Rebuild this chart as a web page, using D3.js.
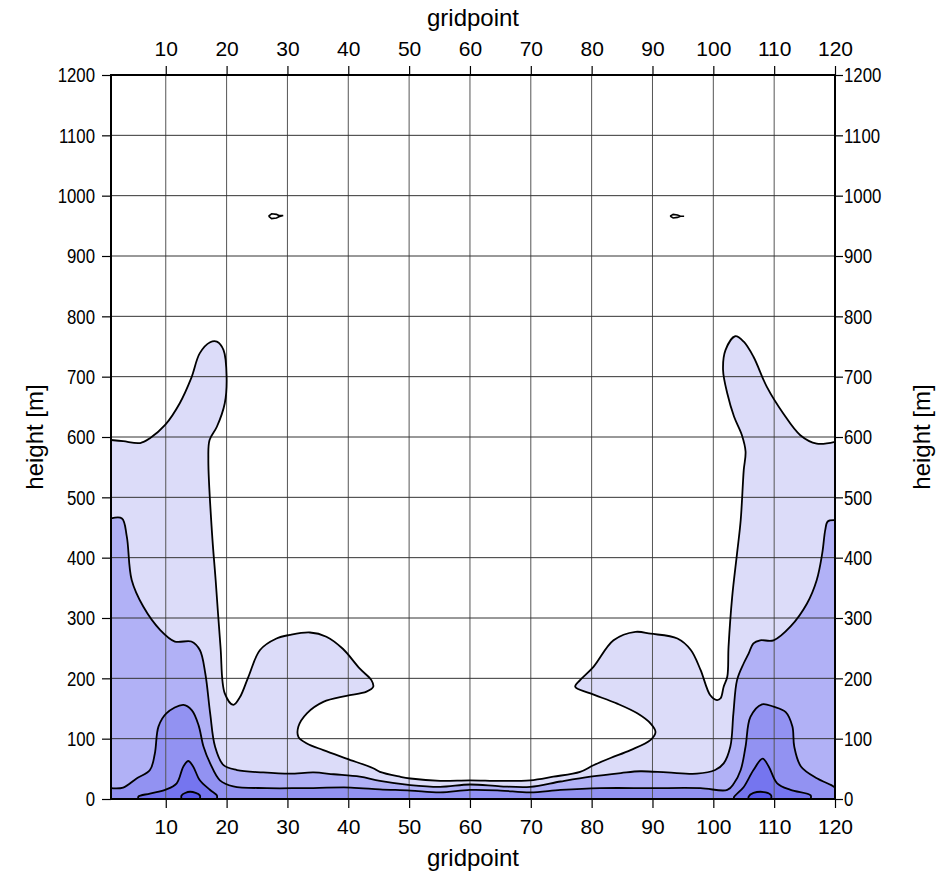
<!DOCTYPE html>
<html lang="en">
<head>
<meta charset="UTF-8">
<title>gridpoint / height contours</title>
<script src="https://cdn.jsdelivr.net/npm/d3@7"></script>
<style>
  body { margin: 0; background: #fff; }
  svg text { font-family: "Liberation Sans", Arial, sans-serif; fill: #000; }
</style>
</head>
<body>
<svg width="949" height="874"></svg>
<script>
// tick labels
const xTicks = [10, 20, 30, 40, 50, 60, 70, 80, 90, 100, 110, 120];
const yTicks = [0, 100, 200, 300, 400, 500, 600, 700, 800, 900, 1000, 1100, 1200];

// contour lines, [gridpoint, height]
const level1 = [[1,595],[3,593],[5.8,590],[7.4,598],[9.9,620],[12.3,656],[14.2,698],[15.6,739],[17.3,757],[18.4,758],[19.5,744],[20.0,700],[19.7,656],[18.4,617],[17.2,595],[17.0,562],[17.6,441],[18.2,363],[19.0,252],[19.7,175],[21.1,156],[22.2,169],[23.6,203],[25.5,247],[28.2,266],[30.4,272],[33.7,276],[36.4,269],[39.1,249],[41.9,216],[43.8,197],[44.1,186],[43.0,178],[39.7,171],[35.9,161],[33.2,142],[31.8,120],[31.8,103],[33.2,92],[35.9,81],[39.7,67],[44.1,51],[45.2,45],[48.5,37],[50.2,34],[55.1,30],[60,31],[65,30],[69.9,31],[73.7,37],[78.1,45],[80.3,56],[83.1,68],[86.4,81],[89.7,98],[90.5,111],[89.7,125],[87.5,142],[84.2,158],[79.8,175],[77.3,186],[78.1,197],[80.3,219],[83.6,263],[87.2,277],[89.7,274],[94.1,266],[96.3,247],[97.9,214],[99.5,172],[100.6,164],[101.2,167],[101.7,186],[102.3,203],[102.5,252],[103.1,335],[103.9,407],[104.5,462],[105.0,545],[105.3,576],[104.7,603],[103.4,634],[102.3,672],[101.6,711],[102.0,744],[103.6,767],[105.0,758],[106.6,733],[108.8,683],[111.5,639],[114.3,603],[117.0,589],[120,592]];
const level2 = [[1,465],[2.8,465],[3.6,435],[4.4,363],[6.3,319],[9.1,280],[11.5,261],[14.2,261],[15.6,247],[16.5,208],[17.3,142],[18.1,87],[19.5,56],[21.7,48],[26.0,44],[30.4,42],[34.3,44],[37.6,41],[41.9,37],[45.2,30],[50.2,23],[55.1,20],[60,24],[65,21],[69.9,20],[74.9,29],[79.8,37],[84.8,43],[88,46],[92.4,44],[97.3,42],[100.3,48],[101.7,59],[102.8,87],[103.3,142],[103.9,197],[105.0,225],[105.8,241],[106.6,258],[107.7,263],[109.9,263],[112.7,286],[115.4,324],[117.0,363],[117.9,407],[118.4,446],[118.8,460],[120,462]];
const level3 = [[1,18],[3,19],[5.2,34],[7.4,48],[8.2,75],[8.8,120],[10.1,142],[12.9,156],[14.3,147],[15.4,122],[16.2,87],[17.3,59],[18.9,31],[21.1,21],[26.6,18],[32.2,18],[40.4,19],[45.2,16],[50.2,14],[55.1,11],[60,15],[65,14],[69.9,11],[74.9,15],[81.4,18],[89.7,18],[97.9,18],[102.3,15],[103.4,26],[104.5,48],[105.3,87],[106.1,136],[108.0,157],[109.9,153],[111.9,144],[113.0,120],[113.3,87],[114.4,54],[117.1,34],[119.4,23],[120,19]];
const level4a = [[5.5,0],[5.5,4],[7.4,9],[10.1,16],[11.8,26],[12.9,54],[13.7,63],[14.5,54],[15.6,31],[17.3,15],[18.4,6],[18.4,0]];
const level4b = [[103.4,0],[103.4,3],[105.0,20],[106.6,48],[108.1,67],[109.1,54],[110.5,26],[112.7,15],[116.0,6],[116,0]];
const level5a = [[12.6,0],[12.6,6],[14,12],[15.6,6],[15.6,0]];
const level5b = [[105.8,0],[105.8,4],[106.6,10],[108.6,11],[109.5,6],[109.5,0]];
const loopA = [[26.9,966],[27.4,970],[28.2,969],[28.6,967],[29.3,967],[28.6,965],[28.2,963],[27.4,962],[26.9,966]];
const loopB = [[92.9,966],[93.4,969],[94.1,968],[94.6,966],[95.2,966],[94.6,966],[94.1,964],[93.4,963],[92.9,966]];

const levels = [
  {line: level1, fill: "#dcdcf9"},
  {line: level2, fill: "#b1b1f6"},
  {line: level3, fill: "#9292f2"},
  {line: level4a, fill: "#7575ef"},
  {line: level4b, fill: "#7575ef"},
  {line: level5a, fill: "#5858eb"},
  {line: level5b, fill: "#5858eb"}
];

const svg = d3.select("svg");
const margin = {left: 111, right: 114, top: 75, bottom: 75};
const W = 949, H = 874;

const x = d3.scaleLinear().domain([1, 120]).range([margin.left, W - margin.right]);
const y = d3.scaleLinear().domain([0, 1200]).range([H - margin.bottom, margin.top]);

const curve = d3.line().x(d => x(d[0])).y(d => y(d[1])).curve(d3.curveCatmullRom.alpha(0.5));

svg.append("defs").append("clipPath").attr("id", "plot")
  .append("rect").attr("x", x(1)).attr("y", y(1200))
  .attr("width", x(120) - x(1)).attr("height", y(0) - y(1200));

const plot = svg.append("g").attr("clip-path", "url(#plot)");

// filled bands (each region drawn over the previous one)
levels.forEach(l => {
  const first = l.line[0], last = l.line[l.line.length - 1];
  const d = curve(l.line) + "L" + x(last[0]) + "," + y(0) + "L" + x(first[0]) + "," + y(0) + "Z";
  plot.append("path").attr("d", d).attr("fill", l.fill);
});

// grid
plot.append("g").selectAll("line").data(xTicks).join("line")
  .attr("x1", d => x(d)).attr("x2", d => x(d))
  .attr("y1", y(0)).attr("y2", y(1200))
  .attr("stroke", "#555").attr("stroke-width", 1);
plot.append("g").selectAll("line").data(yTicks).join("line")
  .attr("x1", x(1)).attr("x2", x(120))
  .attr("y1", d => y(d)).attr("y2", d => y(d))
  .attr("stroke", "#333").attr("stroke-width", 1);

// contour lines
levels.forEach(l => {
  plot.append("path").attr("d", curve(l.line))
    .attr("fill", "none").attr("stroke", "#000").attr("stroke-width", 1.8);
});
[loopA, loopB].forEach(lp => {
  plot.append("path").attr("d", d3.line().x(d => x(d[0])).y(d => y(d[1]))(lp))
    .attr("fill", "none").attr("stroke", "#000").attr("stroke-width", 1.6);
});

// frame
svg.append("rect").attr("x", x(1)).attr("y", y(1200))
  .attr("width", x(120) - x(1)).attr("height", y(0) - y(1200))
  .attr("fill", "none").attr("stroke", "#000").attr("stroke-width", 2);

// axes
const tickFont = 21;
const squeeze = 0.8; // the height labels are narrower in the original
function styleAxis(g) {
  g.attr("font-family", null).attr("font-size", null);
  g.select(".domain").remove();
  g.selectAll(".tick line").attr("stroke", "#000").attr("stroke-width", 1.2);
  g.selectAll(".tick text").attr("font-size", tickFont);
}
function narrow(g) {
  g.selectAll(".tick text").each(function () {
    const t = d3.select(this);
    t.attr("x", +t.attr("x") / squeeze).attr("transform", `scale(${squeeze},1)`);
  });
}
const fmt = d3.format("d");
svg.append("g").attr("transform", `translate(0,${y(0)})`)
  .call(d3.axisBottom(x).tickValues(xTicks).tickFormat(fmt).tickSize(9).tickPadding(11)).call(styleAxis);
svg.append("g").attr("transform", `translate(0,${y(1200)})`)
  .call(d3.axisTop(x).tickValues(xTicks).tickFormat(fmt).tickSize(9).tickPadding(10)).call(styleAxis);
svg.append("g").attr("transform", `translate(${x(1)},0)`)
  .call(d3.axisLeft(y).tickValues(yTicks).tickFormat(fmt).tickSize(9).tickPadding(7)).call(styleAxis).call(narrow);
svg.append("g").attr("transform", `translate(${x(120)},0)`)
  .call(d3.axisRight(y).tickValues(yTicks).tickFormat(fmt).tickSize(8).tickPadding(1)).call(styleAxis).call(narrow);

// titles
const titleFont = 24;
svg.append("text").attr("x", (x(1) + x(120)) / 2).attr("y", 26)
  .attr("text-anchor", "middle").attr("font-size", titleFont).text("gridpoint");
svg.append("text").attr("x", (x(1) + x(120)) / 2).attr("y", 866)
  .attr("text-anchor", "middle").attr("font-size", titleFont).text("gridpoint");
svg.append("text").attr("transform", `translate(43,${(y(0) + y(1200)) / 2}) rotate(-90)`)
  .attr("text-anchor", "middle").attr("font-size", titleFont).text("height [m]");
svg.append("text").attr("transform", `translate(930,${(y(0) + y(1200)) / 2}) rotate(-90)`)
  .attr("text-anchor", "middle").attr("font-size", titleFont).text("height [m]");
</script>
</body>
</html>
